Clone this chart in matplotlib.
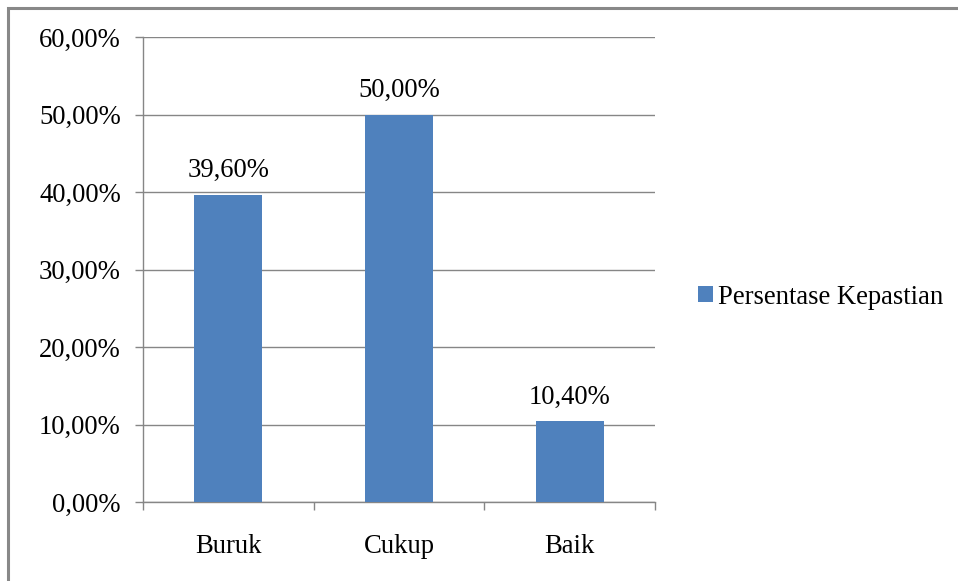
import matplotlib
matplotlib.use("Agg")
import matplotlib.pyplot as plt
from matplotlib.patches import Rectangle
from matplotlib.ticker import FixedLocator, FuncFormatter

categories = ["Buruk", "Cukup", "Baik"]
values = [39.60, 50.00, 10.40]
series_name = "Persentase Kepastian"
y_ticks = [0, 10, 20, 30, 40, 50, 60]

plt.rcParams["font.family"] = ["Liberation Serif", "DejaVu Serif"]
FS = 19.2
BAR_COLOR = "#4F81BD"
GRID_COLOR = "#868686"

fig = plt.figure(figsize=(9.58, 5.81), dpi=100)

# outer chart frame
fig.patches.append(Rectangle((8 / 958, -0.05), 1.1, 1 - 8 / 581 + 0.05,
                             transform=fig.transFigure, fill=False,
                             edgecolor="#888888", linewidth=2.2))

ax = fig.add_axes([143 / 958, 1 - 502 / 581, (655 - 143) / 958, (502 - 37) / 581])

x = list(range(len(categories)))
bars = ax.bar(x, values, width=0.4, color=BAR_COLOR, zorder=3,
              label=series_name)

for xi, v in zip(x, values):
    ax.annotate(f"{v:.2f}%".replace(".", ","), (xi, v),
                xytext=(0, 8.5), textcoords="offset points",
                ha="center", va="bottom", fontsize=FS)

ax.set_xlim(-0.5, len(categories) - 0.5)
ax.set_ylim(0, 60)
ax.set_yticks(y_ticks)
ax.yaxis.set_major_formatter(FuncFormatter(lambda v, p: f"{v:.2f}%".replace(".", ",")))
ax.yaxis.grid(True, color=GRID_COLOR, linewidth=1.0, zorder=0)

ax.set_xticks(x)
ax.set_xticklabels(categories)
ax.xaxis.set_minor_locator(FixedLocator([i - 0.5 for i in range(len(categories) + 1)]))
ax.tick_params(axis="x", which="major", length=0, pad=23, labelsize=FS)
ax.tick_params(axis="x", which="minor", length=6, width=1.0, color=GRID_COLOR, direction="out")
ax.tick_params(axis="y", length=6, width=1.0, color=GRID_COLOR, direction="out",
               pad=10, labelsize=FS)

for side in ("top", "right"):
    ax.spines[side].set_visible(False)
for side in ("left", "bottom"):
    ax.spines[side].set_color(GRID_COLOR)
    ax.spines[side].set_linewidth(1.0)

fig.legend(handles=[bars], labels=[series_name], loc="center left",
           bbox_to_anchor=(698 / 958, 1 - 297 / 581), frameon=False,
           fontsize=FS, handlelength=0.55, handleheight=0.55,
           handletextpad=0.2, borderpad=0, borderaxespad=0)

fig.savefig("out.png", dpi=100)
